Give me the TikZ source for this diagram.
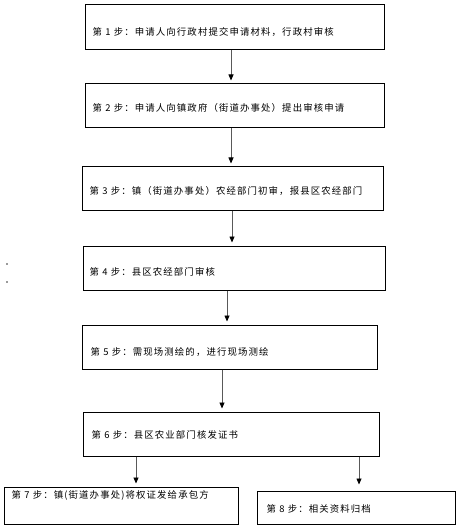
\documentclass[tikz,border=0pt]{standalone}
\usepackage{fontspec}
\newfontfamily\cjk{Noto Sans CJK SC}[LetterSpace=12]
\usetikzlibrary{arrows.meta}
\begin{document}
\begin{tikzpicture}[x=1pt,y=-1pt,
  stepbox/.style={draw=black,line width=1pt,inner sep=0pt,minimum width=#1},
  steptext/.style={anchor=west,inner sep=0pt,font=\cjk\fontsize{9.4}{11}\selectfont,text=black},
  arr/.style={draw=black!65,line width=0.8pt,-{Triangle[length=6pt,width=5pt,fill=black,color=black]},shorten >=3pt}]
\useasboundingbox (0,0) rectangle (464,529);
\fill[white] (0,0) rectangle (464,529);
% boxes
\node[stepbox=299pt,minimum height=45pt] (b1) at (234.5,27.5) {};
\node[stepbox=299pt,minimum height=44pt] (b2) at (234.5,106) {};
\node[stepbox=301pt,minimum height=43pt] (b3) at (232.5,188.5) {};
\node[stepbox=302pt,minimum height=44pt] (b4) at (234,268) {};
\node[stepbox=295pt,minimum height=44pt] (b5) at (229.5,347) {};
\node[stepbox=296pt,minimum height=44pt] (b6) at (231,434) {};
\node[stepbox=234pt,minimum height=37pt] (b7) at (121,505.5) {};
\node[stepbox=198pt,minimum height=33pt] (b8) at (356,507.5) {};
% texts
\node[steptext] (t1) at ([xshift=8pt,yshift=-4.5pt]b1.west) {第 1 步：申请人向行政村提交申请材料，行政村审核};
\node[steptext] (t2) at ([xshift=8pt,yshift=-2pt]b2.west) {第 2 步：申请人向镇政府（街道办事处）提出审核申请};
\node[steptext] (t3) at ([xshift=8pt,yshift=-2.5pt]b3.west) {第 3 步：镇（街道办事处）农经部门初审，报县区农经部门};
\node[steptext] (t4) at ([xshift=7pt,yshift=-4pt]b4.west) {第 4 步：县区农经部门审核};
\node[steptext] (t5) at ([xshift=9pt,yshift=-5pt]b5.west) {第 5 步：需现场测绘的，进行现场测绘};
\node[steptext] (t6) at ([xshift=9pt,yshift=-1pt]b6.west) {第 6 步：县区农业部门核发证书};
\node[steptext] (t7) at ([xshift=8pt,yshift=10pt]b7.west) {第 7 步：镇(街道办事处)将权证发给承包方};
\node[steptext] (t8) at ([xshift=10pt,yshift=-1.5pt]b8.west) {第 8 步：相关资料归档};
% stray dots
\fill[black!80] (7,264) circle (0.8pt);
\fill[black!80] (7,282) circle (0.8pt);
% arrow x positions
\coordinate (x1) at (231,0);
\coordinate (x2) at (231,0);
\coordinate (x3) at (232,0);
\coordinate (x4) at (227,0);
\coordinate (x5) at (222,0);
\coordinate (x6) at (136,0);
\coordinate (x7) at (359,0);
\draw[arr] (b1.south -| x1) -- (b2.north -| x1);
\draw[arr] (b2.south -| x2) -- (b3.north -| x2);
\draw[arr] (b3.south -| x3) -- (b4.north -| x3);
\draw[arr] (b4.south -| x4) -- (b5.north -| x4);
\draw[arr] (b5.south -| x5) -- (b6.north -| x5);
\draw[arr] (b6.south -| x6) -- (b7.north -| x6);
\draw[arr,shorten >=6pt] (b6.south -| x7) -- (b8.north -| x7);
\end{tikzpicture}
\end{document}
